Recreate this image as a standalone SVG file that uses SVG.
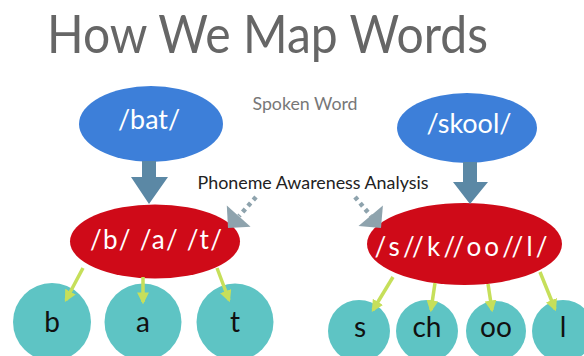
<svg xmlns="http://www.w3.org/2000/svg" width="584" height="356" viewBox="0 0 584 356">
<defs>
<style>
.title{font-family:"Lato","Liberation Sans",sans-serif;font-weight:400;font-size:52px;fill:#666}
.lbl{font-family:"Lato","Liberation Sans",sans-serif}
.blue{fill:#3d7fd9}
.red{fill:#cf0a18}
.teal{fill:#5ec4c4}
.wt{font-family:"Lato","Liberation Sans",sans-serif;fill:#fff;font-size:26px;text-anchor:middle}
.ct{font-family:"Lato","Liberation Sans",sans-serif;fill:#111;font-size:28px;text-anchor:middle}
.big{fill:#5b88a5}
.dash{stroke:#8ea3ad;stroke-width:4.5;stroke-dasharray:4 4;fill:none}
.dhead{fill:#8ea3ad}
.grn{stroke:#c6df5a;stroke-width:3.5;fill:none;marker-end:url(#gh)}
</style>
<marker id="gh" viewBox="0 0 10 10" refX="8" refY="5" markerWidth="3.4" markerHeight="3.4" markerUnits="strokeWidth" orient="auto">
<path d="M0,0 L10,5 L0,10 z" fill="#c6df5a"/>
</marker>
</defs>
<rect width="584" height="356" fill="#fff"/>
<text class="title" x="47" y="53" textLength="441" lengthAdjust="spacingAndGlyphs">How We Map Words</text>
<text class="lbl" x="305" y="110" font-size="17" fill="#777" text-anchor="middle" textLength="105" lengthAdjust="spacingAndGlyphs">Spoken Word</text>
<text class="lbl" x="313" y="189" font-size="17" fill="#222" text-anchor="middle" textLength="231" lengthAdjust="spacingAndGlyphs">Phoneme Awareness Analysis</text>

<g id="bat">
<ellipse class="blue" cx="151" cy="124" rx="72" ry="38"/>
<text class="wt" x="149" y="129" textLength="62" lengthAdjust="spacingAndGlyphs">/bat/</text>
</g>
<g id="skool">
<ellipse class="blue" cx="467" cy="128" rx="70" ry="35"/>
<text class="wt" x="469" y="133" textLength="85" lengthAdjust="spacingAndGlyphs">/skool/</text>
</g>
<g id="bat-phonemes">
<ellipse class="red" cx="155" cy="241.5" rx="85" ry="37"/>
<text class="wt" x="156" y="249" font-size="28" textLength="132" lengthAdjust="spacing">/b/ /a/ /t/</text>
</g>
<g id="skool-phonemes">
<ellipse class="red" cx="464.5" cy="244" rx="97.5" ry="41"/>
<text class="wt" x="461" y="256" font-size="29" textLength="173" lengthAdjust="spacing">/s//k//oo//l/</text>
</g>

<g id="g-b"><circle class="teal" cx="52" cy="322" r="39"/><text class="ct" x="52" y="332">b</text></g>
<g id="g-a"><circle class="teal" cx="143" cy="322" r="38.5"/><text class="ct" x="143" y="332">a</text></g>
<g id="g-t"><circle class="teal" cx="235" cy="322" r="38.5"/><text class="ct" x="235" y="332">t</text></g>
<g id="g-s"><circle class="teal" cx="359" cy="331" r="31"/><text class="ct" x="360" y="337">s</text></g>
<g id="g-ch"><circle class="teal" cx="427" cy="331" r="31"/><text class="ct" x="427" y="337">ch</text></g>
<g id="g-oo"><circle class="teal" cx="496" cy="331" r="30"/><text class="ct" x="496" y="337">oo</text></g>
<g id="g-l"><circle class="teal" cx="563" cy="331" r="31"/><text class="ct" x="563" y="337">l</text></g>

<g id="connectors">
<path class="big" d="M142,161 H156 V177 H168 L149,204 L131,177 H142 Z"/>
<path class="big" d="M463,162 H477 V182 H488 L470,204 L453,182 H463 Z"/>
<line class="dash" x1="256" y1="197" x2="239" y2="216"/>
<polygon class="dhead" points="228,228 250.6,226.8 226.8,205.4"/>
<line class="dash" x1="355" y1="197" x2="371" y2="216"/>
<polygon class="dhead" points="381,228 358.5,226.1 382.9,205.5"/>
<line class="grn" x1="83" y1="268" x2="66" y2="300"/>
<line class="grn" x1="143" y1="277" x2="143" y2="302"/>
<line class="grn" x1="217" y1="268" x2="229" y2="300"/>
<line class="grn" x1="393" y1="277" x2="373" y2="310"/>
<line class="grn" x1="435" y1="283" x2="431" y2="310"/>
<line class="grn" x1="488" y1="284" x2="492" y2="310"/>
<line class="grn" x1="540" y1="272" x2="555" y2="309"/>
</g>
</svg>
